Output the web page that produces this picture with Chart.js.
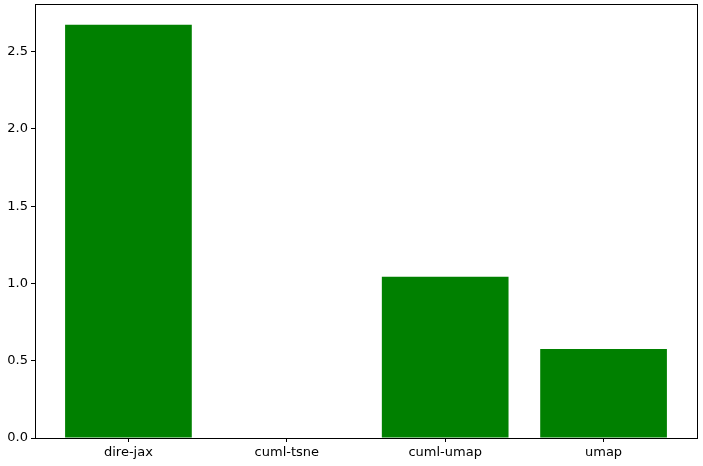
<!DOCTYPE html>
<html>
<head>
<meta charset="utf-8">
<script src="https://cdn.jsdelivr.net/npm/chart.js@4/dist/chart.umd.min.js"></script>
<style>
html,body{margin:0;padding:0;background:#fff;}
#wrap{width:703px;height:466px;}
</style>
</head>
<body>
<div id="wrap"><canvas id="c" width="703" height="466"></canvas></div>
<script>
const categories = ["dire-jax", "cuml-tsne", "cuml-umap", "umap"];
const values = [2.675, 0.0, 1.043, 0.576];
const yTicks = [0.0, 0.5, 1.0, 1.5, 2.0, 2.5];

const n = categories.length;
const xMargin = (n - 1 + 0.8) * 0.05;
const xMin = -0.4 - xMargin, xMax = n - 1 + 0.4 + xMargin;
const yMax = Math.max(...values) * 1.05;

const framePlugin = {
  id: 'frame',
  afterDraw(chart) {
    const {ctx, chartArea: a} = chart;
    ctx.save();
    ctx.strokeStyle = '#000';
    ctx.lineWidth = 1;
    ctx.strokeRect(Math.round(a.left) + 0.5, Math.round(a.top) + 0.5,
      Math.round(a.right - a.left), Math.round(a.bottom - a.top));
    ctx.restore();
  }
};

new Chart(document.getElementById('c'), {
  type: 'bar',
  data: {
    datasets: [{
      data: values.map((v, i) => ({x: i, y: v})),
      backgroundColor: '#008000',
      borderWidth: 0,
      barPercentage: 0.8,
      categoryPercentage: 1.0
    }]
  },
  plugins: [framePlugin],
  options: {
    responsive: false,
    animation: false,
    devicePixelRatio: 1,
    layout: {padding: {top: 4, right: 6, left: 0, bottom: 0}},
    plugins: {legend: {display: false}, tooltip: {enabled: false}},
    scales: {
      x: {
        type: 'linear',
        offset: false,
        min: xMin,
        max: xMax,
        afterBuildTicks(scale) { scale.ticks = categories.map((c, i) => ({value: i})); },
        afterFit(scale) { scale.height = 28; scale.paddingLeft = 0; scale.paddingRight = 0; },
        ticks: {
          callback: (v) => categories[v] ?? '',
          color: '#000',
          font: {family: 'DejaVu Sans', size: 13},
          padding: 3,
          maxRotation: 0,
          autoSkip: false
        },
        grid: {display: true, offset: false, drawOnChartArea: false, drawTicks: true, tickLength: 4, color: '#000'},
        border: {display: true, color: '#000'}
      },
      y: {
        type: 'linear',
        min: 0,
        max: yMax,
        afterBuildTicks(scale) { scale.ticks = yTicks.map(v => ({value: v})); },
        afterFit(scale) { scale.width = 35; scale.paddingTop = 0; scale.paddingBottom = 0; },
        ticks: {
          callback: (v) => Number(v).toFixed(1),
          color: '#000',
          font: {family: 'DejaVu Sans', size: 13},
          padding: 3
        },
        grid: {display: true, drawOnChartArea: false, drawTicks: true, tickLength: 4, color: '#000'},
        border: {display: true, color: '#000'}
      }
    }
  }
});
</script>
</body>
</html>
